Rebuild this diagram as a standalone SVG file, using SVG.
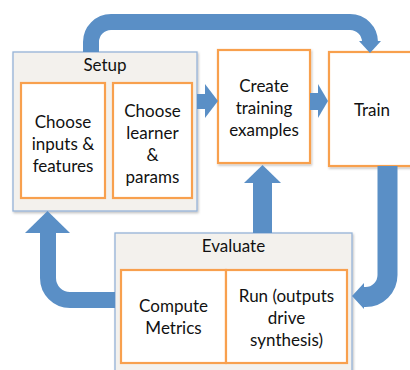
<svg xmlns="http://www.w3.org/2000/svg" width="410" height="370" viewBox="0 0 410 370">
<style>
.grp{fill:#f3f1ed;stroke:#95b3d7;stroke-width:1.3}
.box{fill:#ffffff;stroke:#f8a04e;stroke-width:2.2}
.t{font-family:Lato,"Liberation Sans",sans-serif;font-size:17px;fill:#111;text-anchor:middle}
.arr{fill:none;stroke:#5a8fc6}
.ah{fill:#5a8fc6}
</style>
<defs>
<filter id="sh" x="-10%" y="-10%" width="130%" height="130%">
<feDropShadow dx="1" dy="1.5" stdDeviation="1" flood-color="#000" flood-opacity="0.25"/>
</filter>
</defs>
<rect width="410" height="370" fill="#ffffff"/>
<g id="setup">
<rect class="grp" x="13" y="52" width="184" height="159" filter="url(#sh)"/>
<text class="t" x="105" y="71">Setup</text>
</g>
<g id="choose-inputs">
<rect class="box" x="21" y="83" width="84" height="115"/>
<text class="t" x="63" y="128">Choose</text>
<text class="t" x="63" y="150">inputs &amp;</text>
<text class="t" x="63" y="172">features</text>
</g>
<g id="choose-learner">
<rect class="box" x="113" y="83" width="79" height="115"/>
<text class="t" x="152.5" y="117">Choose</text>
<text class="t" x="152.5" y="139">learner</text>
<text class="t" x="152.5" y="161">&amp;</text>
<text class="t" x="152.5" y="183">params</text>
</g>
<g id="create">
<rect class="box" x="218" y="50" width="92" height="113" filter="url(#sh)"/>
<text class="t" x="264" y="92">Create</text>
<text class="t" x="264" y="114">training</text>
<text class="t" x="264" y="136">examples</text>
</g>
<g id="train">
<rect class="box" x="329" y="52" width="90" height="114" filter="url(#sh)"/>
<text class="t" x="372" y="116">Train</text>
</g>
<g id="evaluate">
<rect class="grp" x="115" y="233" width="237" height="145" filter="url(#sh)"/>
<text class="t" x="233.5" y="252">Evaluate</text>
</g>
<g id="compute">
<rect class="box" x="121" y="270" width="105" height="93"/>
<text class="t" x="173.5" y="312">Compute</text>
<text class="t" x="173.5" y="334">Metrics</text>
</g>
<g id="run">
<rect class="box" x="226" y="270" width="121" height="93"/>
<text class="t" x="286.5" y="302">Run (outputs</text>
<text class="t" x="286.5" y="324">drive</text>
<text class="t" x="286.5" y="346">synthesis)</text>
</g>
<g id="connectors">
<path class="arr" stroke-width="16" d="M 91 52 V 42 A 20 20 0 0 1 111 22 H 350 A 20 20 0 0 1 370 42"/>
<polygon class="ah" points="359,41 381,41 370,53"/>
<rect class="ah" x="197" y="94" width="9" height="15"/>
<polygon class="ah" points="205,84 205,118 218,101"/>
<rect class="ah" x="310" y="93" width="9" height="17"/>
<polygon class="ah" points="318,84 318,118 328,101"/>
<rect class="ah" x="253" y="182" width="19" height="51"/>
<polygon class="ah" points="244,183 281,183 262.5,165"/>
<path class="arr" stroke-width="20" d="M 387.5 166 V 275 A 22 22 0 0 1 365.5 297 H 362"/>
<polygon class="ah" points="364,283 364,309 352,296"/>
<path class="arr" stroke-width="16" d="M 115 300 H 70 A 22 22 0 0 1 48 278 V 232"/>
<polygon class="ah" points="25,233 70,233 47.5,211"/>
</g>
</svg>
